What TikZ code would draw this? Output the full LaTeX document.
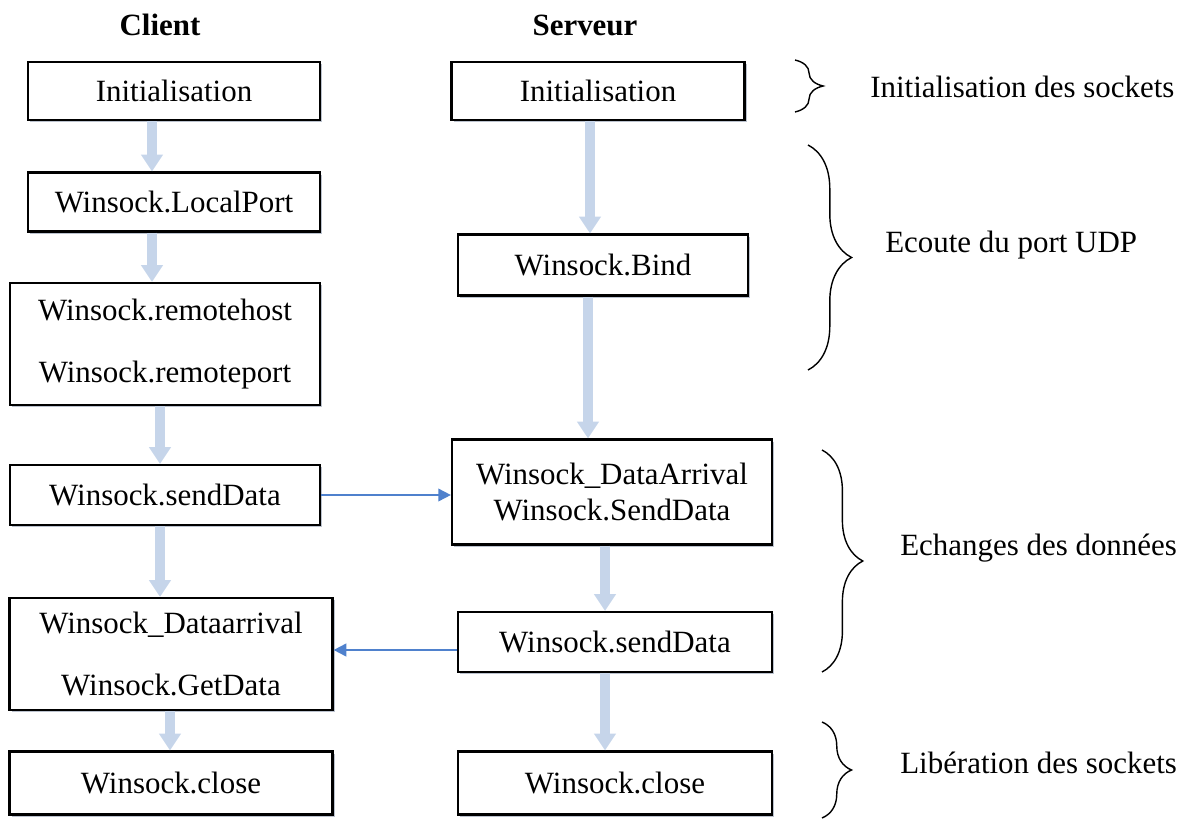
\documentclass[tikz,border=0pt]{standalone}
\usepackage{fontspec}
\setmainfont{Liberation Serif}
\usetikzlibrary{arrows.meta,positioning,calc,shadows,decorations.pathreplacing}
\definecolor{flowblue}{HTML}{4F81CD}
\definecolor{blockblue}{HTML}{C6D5EA}
\definecolor{shadowgray}{HTML}{8E9AAE}

\begin{document}
\begin{tikzpicture}[
    x=0.025cm,y=0.025cm,
    box/.style = {rectangle,draw=black,line width=1.5pt,fill=white,align=center,
                  inner sep=0pt,font=\fontsize{22}{26}\selectfont,
                  drop shadow={shadow xshift=1.6pt,shadow yshift=-1.6pt,
                               fill=shadowgray,opacity=.6}},
    ttl/.style = {font=\fontsize{22}{26}\selectfont\bfseries},
    lbl/.style = {font=\fontsize{22}{26}\selectfont,anchor=west,inner sep=0pt},
    blk/.style = {-{Triangle[length=12pt,width=15pt]},blockblue,line width=7pt},
    fl/.style  = {-{Triangle[length=9pt,width=9pt]},flowblue,line width=1.3pt},
    brc/.style = {decorate,decoration={brace,amplitude=#1},line width=1pt},
  ]
  \useasboundingbox (0,0) rectangle (1197,-821);

  \node[ttl] (client)  at (160,-25) {Client};
  \node[ttl] (serveur) at (585,-25) {Serveur};

  % client
  \node[box,minimum width=7.3cm,minimum height=1.45cm]   (c1) at (174,-91)  {Initialisation};
  \node[box,minimum width=7.3cm,minimum height=1.475cm]  (c2) at (174,-202) {Winsock.LocalPort};
  \node[box,minimum width=7.75cm,minimum height=3.05cm]  (c3) at (165,-344) {Winsock.remotehost\\[18pt]Winsock.remoteport};
  \node[box,minimum width=7.75cm,minimum height=1.5cm]   (c4) at (165,-495) {Winsock.sendData};
  \node[box,minimum width=8.075cm,minimum height=2.8cm]  (c5) at (171,-654) {Winsock\_Dataarrival\\[18pt]Winsock.GetData};
  \node[box,minimum width=8.075cm,minimum height=1.575cm](c6) at (171,-783) {Winsock.close};

  % serveur
  \node[box,minimum width=7.325cm,minimum height=1.45cm] (s1) at (598,-91)  {Initialisation};
  \node[box,minimum width=7.25cm,minimum height=1.525cm] (s2) at (603,-265) {Winsock.Bind};
  \node[box,minimum width=8.0cm,minimum height=2.625cm]  (s3) at (612,-492) {Winsock\_DataArrival\\Winsock.SendData};
  \node[box,minimum width=7.85cm,minimum height=1.5cm]   (s4) at (615,-642) {Winsock.sendData};
  \node[box,minimum width=7.85cm,minimum height=1.575cm] (s5) at (615,-783) {Winsock.close};

  \draw[blk] (c1.south -| 152,0) -- (c2.north -| 152,0);
  \draw[blk] (c2.south -| 152,0) -- (c3.north -| 152,0);
  \draw[blk] (c3.south -| 160,0) -- (c4.north -| 160,0);
  \draw[blk] (c4.south -| 160,0) -- (c5.north -| 160,0);
  \draw[blk] (c5.south -| 170,0) -- (c6.north -| 170,0);
  \draw[blk] (s1.south -| 590,0) -- (s2.north -| 590,0);
  \draw[blk] (s2.south -| 588,0) -- (s3.north -| 588,0);
  \draw[blk] (s3.south -| 605,0) -- (s4.north -| 605,0);
  \draw[blk] (s4.south -| 605,0) -- (s5.north -| 605,0);

  \draw[fl] (c4.east) -- (c4.east -| s3.west);
  \draw[fl] (s4.west |- 0,-650) -- (c5.east |- 0,-650);

  % phases
  \coordinate (b1t) at (795,-60);  \coordinate (b1b) at (795,-112);
  \coordinate (b2t) at (808,-145); \coordinate (b2b) at (808,-370);
  \coordinate (b3t) at (822,-450); \coordinate (b3b) at (822,-672);
  \coordinate (b4t) at (822,-722); \coordinate (b4b) at (822,-818);
  \draw[brc=20pt] (b1t) -- (b1b);
  \draw[brc=31pt] (b2t) -- (b2b);
  \draw[brc=29pt] (b3t) -- (b3b);
  \draw[brc=21pt] (b4t) -- (b4b);

  \node[lbl] (p1) at (870,-87)  {Initialisation des sockets};
  \node[lbl] (p2) at (885,-245) {Ecoute du port UDP};
  \node[lbl] (p3) at (900,-548) {Echanges des données};
  \node[lbl] (p4) at (900,-763) {Libération des sockets};

\end{tikzpicture}
\end{document}
